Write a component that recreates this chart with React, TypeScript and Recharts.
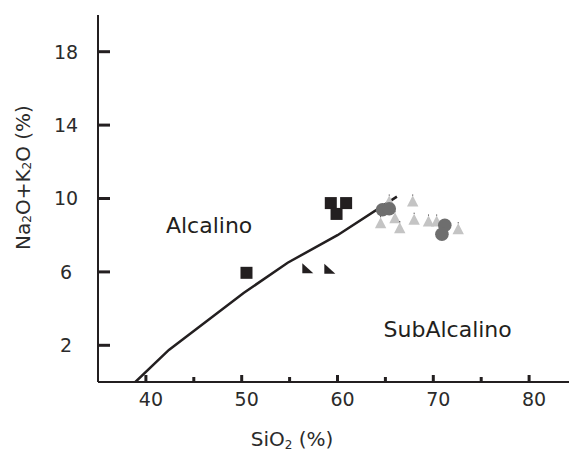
import React from "react";
import { ScatterChart, Scatter, XAxis, YAxis, Label, ReferenceDot } from "recharts";

const INK = "#231f20";
const TEXT = "#2b2b2b";
const FONT = "DejaVu Sans, sans-serif";

// SiO2 (%) against Na2O+K2O (%)
const BOUNDARY_SIO2 = [38.9, 42.4, 50.2, 54.8, 60.0, 66.2];
const BOUNDARY_ALK = [0, 1.75, 4.85, 6.5, 8.0, 10.1];

const SQUARE_SIO2 = [50.5, 59.3, 60.9, 59.9];
const SQUARE_ALK = [5.95, 9.75, 9.75, 9.16];

const WEDGE_SIO2 = [56.9, 59.2];
const WEDGE_ALK = [6.2, 6.17];

const TRIANGLE_SIO2 = [65.4, 67.85, 64.5, 66.0, 66.5, 68.0, 69.5, 70.35, 72.6];
const TRIANGLE_ALK = [9.86, 9.86, 8.68, 8.95, 8.41, 8.87, 8.77, 8.77, 8.35];

const CIRCLE_SIO2 = [64.7, 65.4, 71.2, 70.9];
const CIRCLE_ALK = [9.39, 9.44, 8.54, 8.05];

const X_TICKS = [40, 45, 50, 55, 60, 65, 70, 75, 80];
const Y_TICKS = [2, 6, 10, 14, 18];

const zip = (xs: number[], ys: number[]) => xs.map((x, i) => ({ x, y: ys[i] }));

const boundary = zip(BOUNDARY_SIO2, BOUNDARY_ALK);
const squares = zip(SQUARE_SIO2, SQUARE_ALK);
const wedges = zip(WEDGE_SIO2, WEDGE_ALK);
const triangles = zip(TRIANGLE_SIO2, TRIANGLE_ALK);
const circles = zip(CIRCLE_SIO2, CIRCLE_ALK);

// ticks point into the plot, labels sit outside
const BottomTick = ({ x, y, payload }: any) => {
  const major = payload.value % 10 === 0;
  return (
    <g>
      <line x1={x} x2={x} y1={y} y2={y - (major ? 7 : 5)} stroke={INK} strokeWidth={3} />
      {major && (
        <text x={x + 5} y={y + 24} textAnchor="middle" fill={TEXT} fontSize={19} fontFamily={FONT}>
          {payload.value}
        </text>
      )}
    </g>
  );
};

const TopTick = ({ x, y }: any) => (
  <line x1={x} x2={x} y1={y} y2={y + 7} stroke={INK} strokeWidth={3} />
);

const LeftTick = ({ x, y, payload }: any) => (
  <g>
    <line x1={x} x2={x + 12} y1={y} y2={y} stroke={INK} strokeWidth={3} />
    <text x={x - 32} y={y} dy="0.36em" textAnchor="middle" fill={TEXT} fontSize={19} fontFamily={FONT}>
      {payload.value}
    </text>
  </g>
);

const XTitle = ({ viewBox }: any) => {
  const cx = (viewBox?.x ?? 98) + 194;
  const cy = (viewBox?.y ?? 382) + 64;
  return (
    <text x={cx} y={cy} textAnchor="middle" fill={TEXT} fontSize={20} fontFamily={FONT}>
      SiO<tspan dy={3} fontSize={12}>2</tspan>
      <tspan dy={-3}> (%)</tspan>
    </text>
  );
};

const YTitle = ({ viewBox }: any) => {
  const cx = (viewBox?.x ?? 0) + 23;
  const cy = (viewBox?.y ?? 15) + (viewBox?.height ?? 367) / 2 - 21;
  return (
    <text
      x={cx}
      y={cy}
      transform={`rotate(-90 ${cx} ${cy})`}
      textAnchor="middle"
      dominantBaseline="central"
      fill={TEXT}
      fontSize={20}
      fontFamily={FONT}
    >
      Na<tspan dy={4} fontSize={12}>2</tspan>
      <tspan dy={-4}>O+K</tspan>
      <tspan dy={4} fontSize={12}>2</tspan>
      <tspan dy={-4}>O (%)</tspan>
    </text>
  );
};

const Square = ({ cx, cy }: any) => <rect x={cx - 6} y={cy - 6} width={12} height={12} fill={INK} />;

const Wedge = ({ cx, cy }: any) => (
  <path d={`M${cx - 5.5},${cy - 5}L${cx + 5.5},${cy + 5}L${cx - 5.5},${cy + 5}Z`} fill={INK} />
);

const Triangle = ({ cx, cy }: any) => (
  <g>
    <path d={`M${cx},${cy - 5.5}L${cx + 5.7},${cy + 5.5}L${cx - 5.7},${cy + 5.5}Z`} fill="#c4c4c4" />
    <rect x={cx - 0.5} y={cy - 6.5} width={1} height={1} fill={INK} />
  </g>
);

const Circle = ({ cx, cy }: any) => <circle cx={cx} cy={cy} r={6.8} fill="#6e6e6e" />;

const NoMark = () => <g />;

const regionText = (text: string) => ({ cx, cy }: any) => (
  <text x={cx} y={cy} textAnchor="middle" fill={INK} fontSize={22} fontFamily={FONT}>
    {text}
  </text>
);

export default function App() {
  return (
    <div
      style={{
        position: "fixed",
        left: 0,
        top: 0,
        width: 569,
        height: 452,
        overflow: "hidden",
        background: "#fff",
      }}
    >
      <ScatterChart width={600} height={452} margin={{ top: 15, right: 23, bottom: 0, left: 0 }}>
        <XAxis
          xAxisId="x"
          type="number"
          dataKey="x"
          domain={[35, 85]}
          allowDataOverflow
          ticks={X_TICKS}
          interval={0}
          height={70}
          tickSize={0}
          tickMargin={0}
          tickLine={false}
          tick={<BottomTick />}
          axisLine={{ stroke: INK, strokeWidth: 2 }}
        >
          <Label content={<XTitle />} />
        </XAxis>
        <XAxis
          xAxisId="top"
          orientation="top"
          type="number"
          domain={[35, 85]}
          allowDataOverflow
          ticks={X_TICKS}
          interval={0}
          height={0}
          tickSize={0}
          tickMargin={0}
          tickLine={false}
          tick={<TopTick />}
          axisLine={{ stroke: INK, strokeWidth: 2 }}
        />
        <YAxis
          yAxisId="y"
          type="number"
          dataKey="y"
          domain={[0, 20]}
          allowDataOverflow
          ticks={Y_TICKS}
          interval={0}
          width={98}
          tickSize={0}
          tickMargin={0}
          tickLine={false}
          tick={<LeftTick />}
          axisLine={{ stroke: INK, strokeWidth: 2 }}
        >
          <Label content={<YTitle />} />
        </YAxis>

        <Scatter
          xAxisId="x"
          yAxisId="y"
          data={boundary}
          line={{ stroke: INK, strokeWidth: 2.5 }}
          lineType="joint"
          shape={<NoMark />}
          isAnimationActive={false}
        />
        <Scatter xAxisId="x" yAxisId="y" data={triangles} shape={<Triangle />} isAnimationActive={false} />
        <Scatter xAxisId="x" yAxisId="y" data={circles} shape={<Circle />} isAnimationActive={false} />
        <Scatter xAxisId="x" yAxisId="y" data={squares} shape={<Square />} isAnimationActive={false} />
        <Scatter xAxisId="x" yAxisId="y" data={wedges} shape={<Wedge />} isAnimationActive={false} />

        <ReferenceDot xAxisId="x" yAxisId="y" x={46.6} y={8.1} r={0} shape={regionText("Alcalino")} />
        <ReferenceDot xAxisId="x" yAxisId="y" x={71.5} y={2.45} r={0} shape={regionText("SubAlcalino")} />
      </ScatterChart>
    </div>
  );
}
